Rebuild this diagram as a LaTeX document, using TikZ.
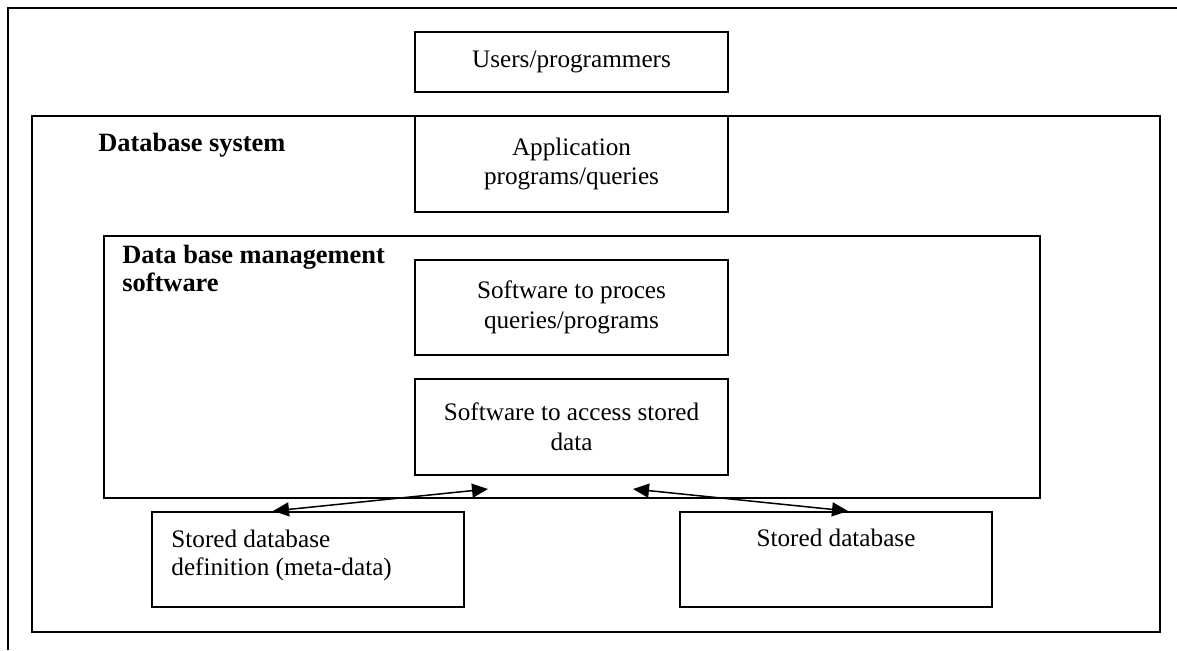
\documentclass[tikz,border=0pt]{standalone}
\usepackage{fontspec}
\setmainfont{Liberation Serif}
\usetikzlibrary{arrows.meta,positioning}

\tikzset{
  frame/.style={line width=1pt},
  box/.style={draw, line width=1pt, inner sep=0pt, align=center,
    font=\fontsize{12.6}{14.8}\selectfont, minimum width=156.5pt, minimum height=48pt},
  boxtext/.style={font=\fontsize{12.6}{14}\selectfont, inner sep=0pt},
  heading/.style={font=\fontsize{13.2}{13.8}\selectfont\bfseries, align=left, inner sep=0pt},
  link/.style={line width=0.75pt,
    {Triangle[length=8pt,width=7pt]}-{Triangle[length=8pt,width=7pt]}}
}

\begin{document}
\begin{tikzpicture}[x=0.5pt, y=-0.5pt]
\useasboundingbox (0,0) rectangle (1177,650);
% open frame round the whole figure
\draw[frame] (8,650) |- (1177,8);

\node[box] (users) at (571.5,62) [minimum height=30pt] {Users/programmers};

% database system
\node[box, minimum width=564pt, minimum height=258pt] (sys) at (596,374) {};
\node[heading, anchor=base west] (systitle) at ([xshift=33.5pt,yshift=-18pt]sys.north west) {Database system};
\node[box] (app) at (571.5,164) {Application\\programs/queries};

% management software
\node[box, minimum width=468pt, minimum height=131pt] (dbms) at (572,367) {};
\node[heading, anchor=north west] (dbmstitle) at ([xshift=9.5pt,yshift=-5pt]dbms.north west) {Data base management\\software};
\node[box, minimum height=47.5pt] (proc) at (571.5,307.5) {Software to proces\\queries/programs};
\node[box] (acc) at (571.5,427) {Software to access stored\\data};

% stored parts
\node[box, minimum width=156pt, minimum height=47.5pt] (def) at (308,559.5) {};
\node[boxtext, align=left, anchor=north west] (deftxt) at ([xshift=10pt,yshift=-9.5pt]def.north west) {Stored database\\definition (meta-data)};
\node[box, minimum width=156pt, minimum height=47.5pt] (db) at (836,559.5) {};
\node[boxtext, anchor=base] (dbtxt) at ([yshift=-17.5pt]db.north) {Stored database};

\draw[link] ([xshift=-17.5pt]def.north) -- ([xshift=-41.75pt,yshift=-6.5pt]acc.south);
\draw[link] ([xshift=30.75pt,yshift=-6.5pt]acc.south) -- ([xshift=6pt]db.north);
\end{tikzpicture}
\end{document}
